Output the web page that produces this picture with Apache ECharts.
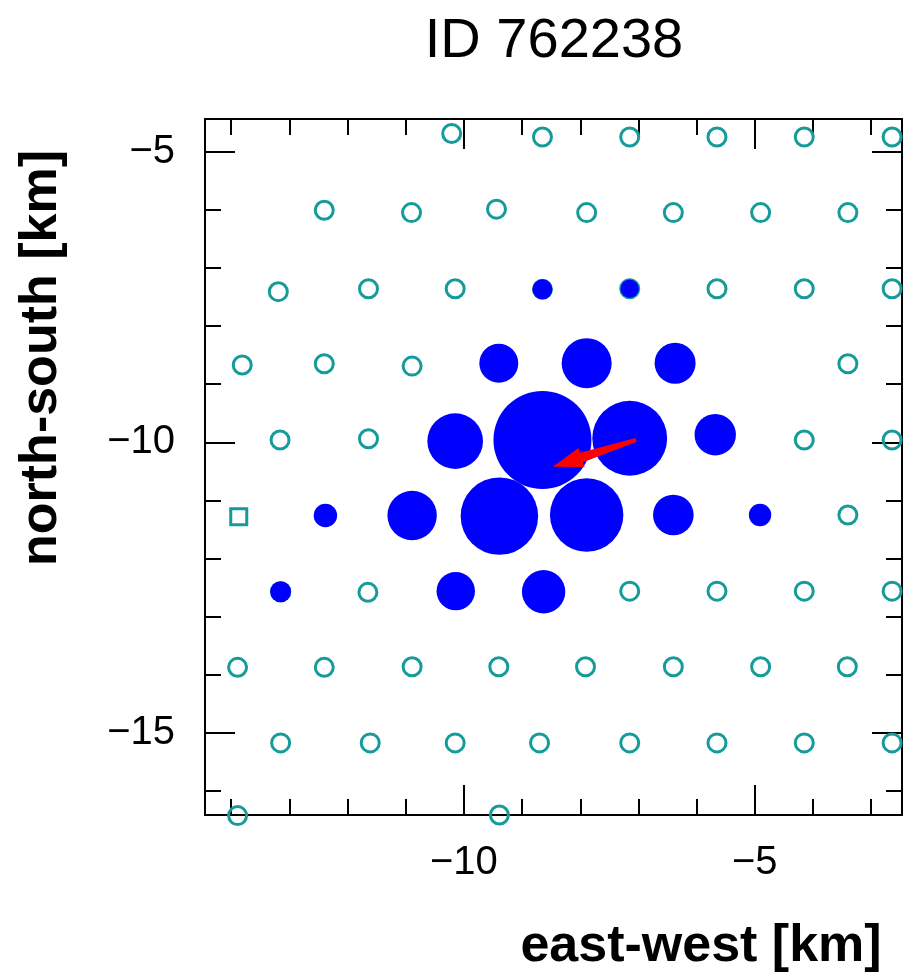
<!DOCTYPE html>
<html>
<head>
<meta charset="utf-8">
<script src="https://cdn.jsdelivr.net/npm/echarts@6/dist/echarts.min.js"></script>
<style>
  html, body { margin: 0; padding: 0; background: #fff; }
  #chart { width: 903px; height: 980px; }
</style>
</head>
<body>
<div id="chart"></div>
<script>
// ---- data (km) ----
const stationE = [
  -10.21, -8.65, -7.15, -5.65, -4.15, -2.64,
  -12.40, -10.90, -9.44, -7.89, -6.40, -4.90, -3.40,
  -13.19, -11.64, -10.15, -8.65, -7.15, -5.65, -4.15, -2.64,
  -13.81, -12.40, -10.89, -9.40, -7.89, -6.37, -3.40,
  -13.16, -11.64, -10.15, -8.65, -7.15, -5.68, -4.15, -2.64,
  -12.38, -10.89, -9.39, -7.89, -6.40, -4.91, -3.40,
  -13.15, -11.65, -10.14, -8.63, -7.15, -5.65, -4.15, -2.64,
  -13.89, -12.40, -10.89, -9.40, -7.91, -6.40, -4.90, -3.41,
  -13.15, -11.61, -10.15, -8.70, -7.15, -5.65, -4.15, -2.64,
  -13.89, -9.39
];
const stationN = [
  -4.69, -4.75, -4.75, -4.75, -4.75, -4.75,
  -6.01, -6.05, -5.99, -6.05, -6.05, -6.05, -6.05,
  -7.41, -7.36, -7.36, -7.37, -7.36, -7.36, -7.36, -7.36,
  -8.67, -8.65, -8.69, -8.64, -8.64, -8.64, -8.65,
  -9.96, -9.94, -9.98, -9.96, -9.93, -9.87, -9.96, -9.96,
  -11.26, -11.26, -11.27, -11.25, -11.25, -11.25, -11.25,
  -12.57, -12.58, -12.56, -12.57, -12.56, -12.56, -12.56, -12.56,
  -13.87, -13.87, -13.86, -13.86, -13.86, -13.86, -13.86, -13.86,
  -15.17, -15.17, -15.17, -15.17, -15.17, -15.17, -15.17, -15.17,
  -16.42, -16.41
];
const squareE = [-13.87];
const squareN = [-11.28];

const triggeredE = [-8.65, -7.15, -9.40, -7.89, -6.37, -10.15, -8.65, -7.15, -5.68,
                    -12.38, -10.89, -9.39, -7.89, -6.40, -4.91, -13.15, -10.14, -8.63];
const triggeredN = [-7.37, -7.36, -8.64, -8.64, -8.64, -9.98, -9.96, -9.93, -9.87,
                    -11.26, -11.26, -11.27, -11.25, -11.25, -11.25, -12.57, -12.56, -12.57];
const triggeredSignal = [100, 85, 380, 625, 420, 773, 2400, 1400, 428,
                         137, 610, 1500, 1347, 412, 125, 110, 369, 470];

const arrowTail = [-7.04, -9.96];
const arrowHead = [-8.47, -10.42];

const xRange = [-14.45, -2.47];
const yRange = [-16.41, -4.44];
const xMajor = [-10, -5];
const xMinor = [-14, -13, -12, -11, -10, -9, -8, -7, -6, -5, -4, -3];
const yMajor = [-15, -10, -5];
const yMinor = [-16, -15, -14, -13, -12, -11, -10, -9, -8, -7, -6, -5];

const titleText = 'ID 762238';
const xName = 'east-west [km]';
const yName = 'north-south [km]';

// ---- chart ----
const FONT = "'Liberation Sans', Arial, Helvetica, sans-serif";
const TEAL = '#169b9b';
const chart = echarts.init(document.getElementById('chart'), null, { renderer: 'canvas' });
const gridRect = { left: 205, top: 119, width: 697, height: 696 };
const fmt = v => (v < 0 ? '\u2212' : '') + Math.abs(v);

function axisBase(range) {
  return {
    type: 'value', min: range[0], max: range[1],
    splitLine: { show: false },
    axisLine: { show: true, lineStyle: { color: '#000', width: 2 } },
    axisLabel: { show: false }
  };
}
function minorAxis(range, ticks, gridIndex, position) {
  return Object.assign(axisBase(range), {
    gridIndex, position,
    axisTick: { show: true, inside: true, length: 16, customValues: ticks, lineStyle: { color: '#000', width: 2 } }
  });
}
function majorAxis(range, ticks, gridIndex, position, labels, margin) {
  const a = Object.assign(axisBase(range), {
    gridIndex, position,
    axisLine: { show: false },
    axisTick: { show: true, inside: true, length: 30, customValues: ticks, lineStyle: { color: '#000', width: 2 } }
  });
  if (labels) {
    a.axisLabel = { show: true, customValues: ticks, formatter: fmt, fontFamily: FONT, fontSize: 40, color: '#000', margin };
  }
  return a;
}

const option = {
  backgroundColor: '#fff',
  animation: false,
  grid: [Object.assign({}, gridRect), Object.assign({}, gridRect)],
  xAxis: [
    minorAxis(xRange, xMinor, 0, 'bottom'),
    minorAxis(xRange, xMinor, 0, 'top'),
    majorAxis(xRange, xMajor, 1, 'bottom', true, 28),
    majorAxis(xRange, xMajor, 1, 'top', false)
  ],
  yAxis: [
    minorAxis(yRange, yMinor, 0, 'left'),
    minorAxis(yRange, yMinor, 0, 'right'),
    majorAxis(yRange, yMajor, 1, 'left', true, 30),
    majorAxis(yRange, yMajor, 1, 'right', false)
  ],
  graphic: [
    { type: 'text', x: 554, y: 42, style: { text: titleText, font: "56px " + FONT, fill: '#000', align: 'center', verticalAlign: 'middle' } },
    { type: 'text', x: 701, y: 947, style: { text: xName, font: "bold 52px " + FONT, fill: '#000', align: 'center', verticalAlign: 'middle' } },
    { type: 'text', x: 42, y: 358, rotation: Math.PI / 2, style: { text: yName, font: "bold 52px " + FONT, fill: '#000', align: 'center', verticalAlign: 'middle' } }
  ],
  series: [
    {
      type: 'scatter', xAxisIndex: 0, yAxisIndex: 0, clip: false,
      symbol: 'circle', symbolSize: 18,
      itemStyle: { color: 'rgba(0,0,0,0)', borderColor: TEAL, borderWidth: 3, opacity: 1 },
      data: stationE.map((e, i) => [e, stationN[i]]),
      z: 2
    },
    {
      type: 'scatter', xAxisIndex: 0, yAxisIndex: 0, clip: false,
      symbol: 'rect', symbolSize: 16,
      itemStyle: { color: 'rgba(0,0,0,0)', borderColor: TEAL, borderWidth: 3, opacity: 1 },
      data: squareE.map((e, i) => [e, squareN[i]]),
      z: 2
    },
    {
      type: 'scatter', xAxisIndex: 0, yAxisIndex: 0, clip: false,
      symbol: 'circle',
      symbolSize: v => 2 * Math.sqrt(v[2]),
      itemStyle: { color: '#0000ff', opacity: 1 },
      data: triggeredE.map((e, i) => [e, triggeredN[i], triggeredSignal[i]]),
      z: 3
    },
    {
      type: 'custom', xAxisIndex: 0, yAxisIndex: 0, clip: false,
      data: [[arrowTail[0], arrowTail[1], arrowHead[0], arrowHead[1]]],
      encode: { x: [0, 2], y: [1, 3] },
      renderItem: function (params, api) {
        const t = api.coord([api.value(0), api.value(1)]);
        const h = api.coord([api.value(2), api.value(3)]);
        const dx = t[0] - h[0], dy = t[1] - h[1];
        const L = Math.sqrt(dx * dx + dy * dy);
        const ux = dx / L, uy = dy / L;
        const nx = -uy, ny = ux;
        const hl = 30, hw = 10, sw1 = 5, sw2 = 2;
        const b = [h[0] + hl * ux, h[1] + hl * uy];
        const pts = [
          h,
          [b[0] + hw * nx, b[1] + hw * ny],
          [b[0] + sw1 * nx, b[1] + sw1 * ny],
          [t[0] + sw2 * nx, t[1] + sw2 * ny],
          [t[0] - sw2 * nx, t[1] - sw2 * ny],
          [b[0] - sw1 * nx, b[1] - sw1 * ny],
          [b[0] - hw * nx, b[1] - hw * ny]
        ];
        return { type: 'polygon', shape: { points: pts }, style: { fill: '#ff0000' } };
      },
      z: 4
    }
  ]
};
chart.setOption(option);
</script>
</body>
</html>
